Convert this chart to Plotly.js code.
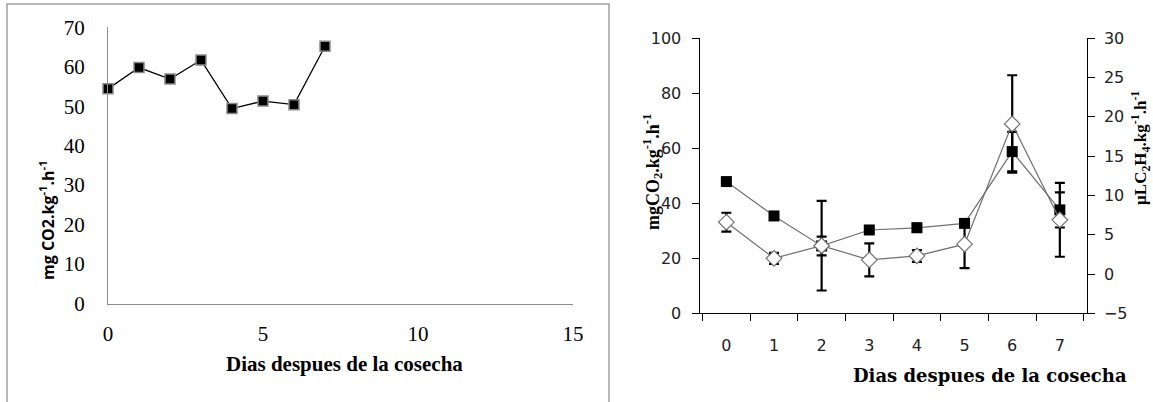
<!DOCTYPE html>
<html>
<head>
<meta charset="utf-8">
<script src="https://cdn.plot.ly/plotly-3.0.1.min.js"></script>
<style>html,body{margin:0;padding:0;background:#fff;}#chart{width:1153px;height:402px;}</style>
</head>
<body>
<div id="chart"></div>
<script>
// Left chart data
const leftDays = [0, 1, 2, 3, 4, 5, 6, 7];
const leftCO2 = [54.4, 59.8, 56.9, 61.7, 49.4, 51.3, 50.4, 65.2];

// Right chart data
const rightDays = ['0', '1', '2', '3', '4', '5', '6', '7'];
const co2 = [47.9, 35.4, 24.5, 30.3, 31.1, 32.7, 58.8, 37.6];
const co2Err = [1.0, 1.0, 3.4, 1.0, 1.5, 1.0, 7.2, 6.4];
const c2h4 = [6.6, 2.0, 3.6, 1.8, 2.3, 3.8, 19.1, 6.9];
const c2h4Err = [1.2, 0.7, 5.7, 2.1, 0.75, 3.05, 6.2, 4.7];

const leftTitleY = 'mg CO2.kg<sup>-1</sup>.h<sup>-1</sup>';
const xTitle = 'Dias despues de la cosecha';
const rightTitleY = 'mgCO<sub>2</sub>.kg<sup>-1</sup>.h<sup>-1</sup>';
const rightTitleY2 = 'µLC<sub>2</sub>H<sub>4</sub>.kg<sup>-1</sup>.h<sup>-1</sup>';

const W = 1153, H = 402;
const px = v => v / W;
const py = v => (H - v) / H;

const traces = [
  {
    x: leftDays, y: leftCO2, xaxis: 'x', yaxis: 'y', type: 'scatter', mode: 'lines+markers',
    line: {color: '#000', width: 1.3},
    marker: {symbol: 'square', size: 10, color: '#000', line: {color: '#8a8a8a', width: 1.5}},
    cliponaxis: false, showlegend: false, hoverinfo: 'skip'
  },
  {
    x: rightDays, y: c2h4, xaxis: 'x2', yaxis: 'y3', type: 'scatter', mode: 'lines+markers',
    line: {color: '#707070', width: 1.2},
    marker: {symbol: 'diamond', size: 12, color: '#fff', line: {color: '#707070', width: 1.2}},
    error_y: {type: 'data', array: c2h4Err, visible: true, color: '#000', thickness: 2.2, width: 5},
    cliponaxis: false, showlegend: false, hoverinfo: 'skip'
  },
  {
    x: rightDays, y: co2, xaxis: 'x2', yaxis: 'y2', type: 'scatter', mode: 'lines+markers',
    line: {color: '#707070', width: 1.2},
    marker: {symbol: 'square', size: 11, color: '#000', line: {color: '#000', width: 0}},
    error_y: {type: 'data', array: co2Err, visible: true, color: '#000', thickness: 2.2, width: 5},
    cliponaxis: false, showlegend: false, hoverinfo: 'skip'
  }
];

const serif = 'Liberation Serif';
const sans = 'DejaVu Sans';
const xd2 = [px(699.5), px(1086.7)];
const yd2 = [py(313.3), py(38.3)];

const layout = {
  width: W, height: H,
  margin: {l: 0, r: 0, t: 0, b: 0},
  paper_bgcolor: '#fff', plot_bgcolor: 'rgba(0,0,0,0)',
  showlegend: false,
  xaxis: {
    domain: [px(108), px(573)], anchor: 'y', range: [0, 15], dtick: 5,
    showline: true, linecolor: '#8c8c8c', linewidth: 1, ticks: '', showgrid: false, zeroline: false,
    tickfont: {family: serif, size: 21, color: '#000'}, ticklabelstandoff: 11
  },
  yaxis: {
    domain: [py(303.5), py(27.3)], anchor: 'x', range: [0, 70], dtick: 10,
    showline: true, linecolor: '#8c8c8c', linewidth: 1, ticks: '', showgrid: false, zeroline: false,
    tickfont: {family: serif, size: 21, color: '#000'}, ticklabelstandoff: 18
  },
  xaxis2: {
    domain: xd2, anchor: 'y2', type: 'category', tickson: 'boundaries',
    ticks: 'outside', ticklen: 7, tickwidth: 1, tickcolor: '#000',
    showline: true, linecolor: '#000', linewidth: 1, showgrid: false, zeroline: false,
    tickfont: {family: sans, size: 16, color: '#222'}, ticklabelstandoff: 17
  },
  xaxis3: {
    domain: xd2, anchor: 'y2', overlaying: 'x2', type: 'linear', range: [-0.5, 7.5],
    tickmode: 'array', tickvals: [-0.5, 0.5, 1.5, 2.5, 3.5, 4.5, 5.5, 6.5, 7.5],
    ticks: 'inside', ticklen: 7, tickwidth: 1, tickcolor: '#000',
    showticklabels: false, showline: false, showgrid: false, zeroline: false
  },
  yaxis2: {
    domain: yd2, anchor: 'x2', range: [0, 100], dtick: 20,
    ticks: 'outside', ticklen: 7, tickwidth: 1, tickcolor: '#000',
    showline: true, linecolor: '#000', linewidth: 1, showgrid: false, zeroline: false,
    tickfont: {family: sans, size: 16, color: '#222'}, ticklabelstandoff: 7
  },
  yaxis3: {
    domain: yd2, anchor: 'x2', overlaying: 'y2', side: 'right', range: [-5, 30], dtick: 5,
    ticks: 'outside', ticklen: 7, tickwidth: 1, tickcolor: '#000',
    showline: true, linecolor: '#000', linewidth: 1, showgrid: false, zeroline: false,
    tickfont: {family: sans, size: 16, color: '#222'}, ticklabelstandoff: 6
  },
  yaxis4: {
    domain: yd2, anchor: 'x2', overlaying: 'y2', side: 'left', range: [0, 100],
    tickmode: 'array', tickvals: [0, 20, 40, 60, 80, 100],
    ticks: 'inside', ticklen: 7, tickwidth: 1, tickcolor: '#000',
    showticklabels: false, showline: false, showgrid: false, zeroline: false
  },
  yaxis5: {
    domain: yd2, anchor: 'x2', overlaying: 'y2', side: 'right', range: [-5, 30],
    tickmode: 'array', tickvals: [-5, 0, 5, 10, 15, 20, 25, 30],
    ticks: 'inside', ticklen: 7, tickwidth: 1, tickcolor: '#000',
    showticklabels: false, showline: false, showgrid: false, zeroline: false
  },
  shapes: [
    {type: 'rect', xref: 'paper', yref: 'paper', x0: px(7), x1: px(609), y0: -0.02, y1: py(4),
     line: {color: '#a0a0a0', width: 1.5}, fillcolor: 'rgba(0,0,0,0)', layer: 'below'}
  ],
  annotations: [
    {xref: 'paper', yref: 'paper', x: px(47), y: py(220), text: '<b>' + leftTitleY + '</b>', textangle: -90,
     showarrow: false, xanchor: 'center', yanchor: 'middle', font: {family: 'Open Sans', size: 16, color: '#000'}},
    {xref: 'paper', yref: 'paper', x: px(344), y: py(364), text: '<b>' + xTitle + '</b>',
     showarrow: false, xanchor: 'center', yanchor: 'middle', font: {family: serif, size: 21, color: '#000'}},
    {xref: 'paper', yref: 'paper', x: px(652), y: py(172), text: '<b>' + rightTitleY + '</b>', textangle: -90,
     showarrow: false, xanchor: 'center', yanchor: 'middle', font: {family: serif, size: 18, color: '#000'}},
    {xref: 'paper', yref: 'paper', x: px(1140), y: py(148), text: '<b>' + rightTitleY2 + '</b>', textangle: -90,
     showarrow: false, xanchor: 'center', yanchor: 'middle', font: {family: serif, size: 17, color: '#000'}},
    {xref: 'paper', yref: 'paper', x: px(990), y: py(375), text: '<b>' + xTitle + '</b>',
     showarrow: false, xanchor: 'center', yanchor: 'middle', font: {family: 'DejaVu Serif', size: 18, color: '#000'}}
  ]
};

Plotly.newPlot('chart', traces, layout, {staticPlot: true, displayModeBar: false});
</script>
</body>
</html>
